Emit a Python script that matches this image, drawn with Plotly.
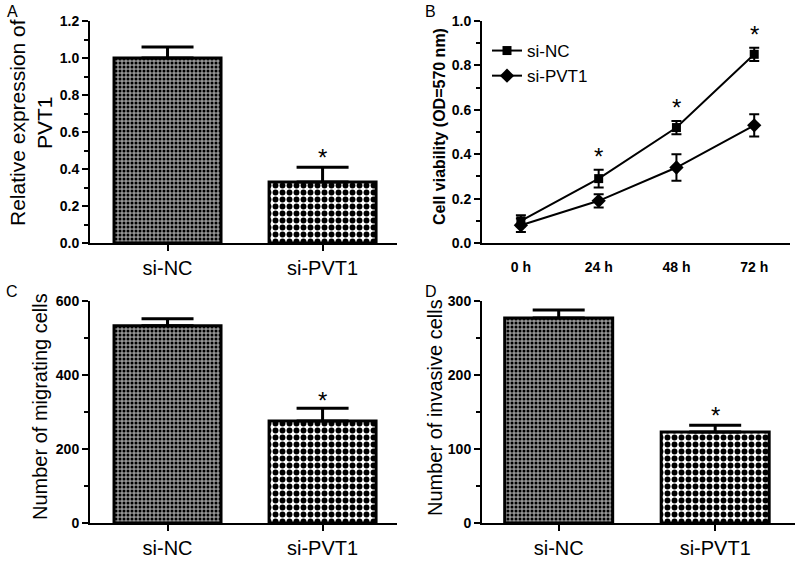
import plotly.graph_objects as go

# ---------------- data ----------------
groups = ["si-NC", "si-PVT1"]
expr_mean = [1.0, 0.33]
expr_err = [0.06, 0.08]

times = ["0 h", "24 h", "48 h", "72 h"]
via_nc = [0.10, 0.29, 0.52, 0.85]
via_nc_err = [0.025, 0.04, 0.03, 0.03]
via_pvt = [0.08, 0.19, 0.34, 0.53]
via_pvt_err = [0.03, 0.03, 0.06, 0.05]
via_sig = [False, True, True, True]

mig_mean = [533, 276]
mig_err = [19, 34]

inv_mean = [277, 123]
inv_err = [11, 9]

FONT = "Liberation Sans, Arial, sans-serif"
W, H = 800, 561


def xd(a, b):
    return [a / W, b / W]


def yd(top, bottom):
    return [(H - bottom) / H, (H - top) / H]


fig = go.Figure()

bar_patterns = [
    dict(shape=".", size=4, solidity=0.45, fgcolor="black", bgcolor="#959595"),
    dict(shape=".", size=7, solidity=0.55, fgcolor="black", bgcolor="white", fgopacity=1),
]


def add_bars(vals, errs, xa, ya):
    for i, g in enumerate(groups):
        fig.add_trace(go.Bar(
            x=[g], y=[vals[i]], xaxis=xa, yaxis=ya, width=0.69,
            marker=dict(color="white", line=dict(color="black", width=3),
                        pattern=bar_patterns[i]),
            error_y=dict(type="data", symmetric=False, array=[errs[i]], arrayminus=[0],
                         color="black", thickness=3, width=26),
            showlegend=False,
        ))


add_bars(expr_mean, expr_err, "x", "y")
add_bars(mig_mean, mig_err, "x3", "y3")
add_bars(inv_mean, inv_err, "x4", "y4")

fig.add_trace(go.Scatter(
    x=times, y=via_nc, xaxis="x2", yaxis="y2", name="si-NC", mode="lines+markers",
    line=dict(color="black", width=2), marker=dict(symbol="square", size=9, color="black"),
    error_y=dict(type="data", array=via_nc_err, color="black", thickness=2, width=5),
))
fig.add_trace(go.Scatter(
    x=times, y=via_pvt, xaxis="x2", yaxis="y2", name="si-PVT1", mode="lines+markers",
    line=dict(color="black", width=2), marker=dict(symbol="diamond", size=11, color="black"),
    error_y=dict(type="data", array=via_pvt_err, color="black", thickness=2, width=5),
))

axis_common = dict(showline=True, linecolor="black", linewidth=2, showgrid=False,
                   zeroline=False, ticks="outside", tickcolor="black", tickwidth=2,
                   automargin=False)

xcat_bar = dict(axis_common, type="category", range=[-0.5, 1.48], ticklen=6,
                tickfont=dict(family=FONT, size=20, color="black"))
ybase = dict(axis_common, ticklen=6,
             tickfont=dict(family=FONT, size=14, color="black", weight="bold"))

fig.update_layout(
    template="none",
    width=W, height=H, margin=dict(l=0, r=0, t=0, b=0, pad=0), autosize=False,
    paper_bgcolor="white", plot_bgcolor="white", barmode="overlay",
    font=dict(family=FONT, color="black"),
    xaxis=dict(xcat_bar, domain=xd(90, 397), anchor="y"),
    yaxis=dict(ybase, domain=yd(21, 243), anchor="x", range=[0, 1.2], dtick=0.2,
               tickformat=".1f",
               minor=dict(dtick=0.1, ticks="outside", ticklen=4, tickwidth=2, tickcolor="black")),
    xaxis2=dict(axis_common, type="category", domain=xd(482, 790), anchor="y2",
                range=[-0.5, 3.46], ticks="", ticklen=0, ticklabelstandoff=10,
                tickfont=dict(family=FONT, size=14, color="black", weight="bold")),
    yaxis2=dict(ybase, domain=yd(21, 243), anchor="x2", range=[0, 1.0], dtick=0.2,
                tickformat=".1f",
                minor=dict(dtick=0.1, ticks="outside", ticklen=4, tickwidth=2, tickcolor="black")),
    xaxis3=dict(xcat_bar, domain=xd(90, 397), anchor="y3"),
    yaxis3=dict(ybase, domain=yd(301, 523), anchor="x3", range=[0, 600], dtick=200,
                minor=dict(dtick=100, ticks="outside", ticklen=4, tickwidth=2, tickcolor="black")),
    xaxis4=dict(xcat_bar, domain=xd(482, 795), anchor="y4", range=[-0.49, 1.51]),
    yaxis4=dict(ybase, domain=yd(301, 523), anchor="x4", range=[0, 300], dtick=100,
                minor=dict(dtick=50, ticks="outside", ticklen=4, tickwidth=2, tickcolor="black")),
    legend=dict(x=487 / W, y=1 - 33 / H, xanchor="left", yanchor="top",
                font=dict(family=FONT, size=17, color="black"), bgcolor="rgba(0,0,0,0)",
                tracegroupgap=0),
)

ann = []
# panel letters
for letter, px, py in [("A", 12, 12), ("B", 431, 12), ("C", 12, 291), ("D", 431, 291)]:
    ann.append(dict(text=letter, x=px / W, y=1 - py / H, xref="paper", yref="paper",
                    xanchor="center", yanchor="middle",
                    showarrow=False, font=dict(family=FONT, size=16, color="black")))

# y titles
for txt, px, py, size, bold in [
    ("Relative expression of<br>PVT1", 31, 123, 21, False),
    ("Cell viability (OD=570 nm)", 440, 127, 16, True),
    ("Number of migrating cells", 40, 407, 20, False),
    ("Number of invasive cells", 435, 407, 20, False),
]:
    f = dict(family=FONT, size=size, color="black")
    if bold:
        f["weight"] = "bold"
    ann.append(dict(text=txt, x=px / W, y=1 - py / H, xref="paper", yref="paper",
                    xanchor="center", yanchor="middle",
                    textangle=-90, showarrow=False, font=f))

# significance stars
star_font = dict(family=FONT, size=24, color="black")
ann.append(dict(text="*", x=groups[1], y=expr_mean[1] + expr_err[1], xref="x", yref="y",
                yanchor="middle", yshift=10, showarrow=False, font=star_font))
ann.append(dict(text="*", x=groups[1], y=mig_mean[1] + mig_err[1], xref="x3", yref="y3",
                yanchor="middle", yshift=8, showarrow=False, font=star_font))
ann.append(dict(text="*", x=groups[1], y=inv_mean[1] + inv_err[1], xref="x4", yref="y4",
                yanchor="middle", yshift=10, showarrow=False, font=star_font))
for t, v, e, s in zip(times, via_nc, via_nc_err, via_sig):
    if s:
        ann.append(dict(text="*", x=t, y=v + e, xref="x2", yref="y2", yanchor="middle",
                        yshift=13, showarrow=False, font=star_font))

fig.update_layout(annotations=ann)
fig.write_html(
    "out.html",
    config={"responsive": False, "displayModeBar": False},
    post_script=(
        "var s=document.body.style;s.margin='0';s.padding='0';s.overflow='hidden';"
        "document.documentElement.style.overflow='hidden';"
    ),
)
